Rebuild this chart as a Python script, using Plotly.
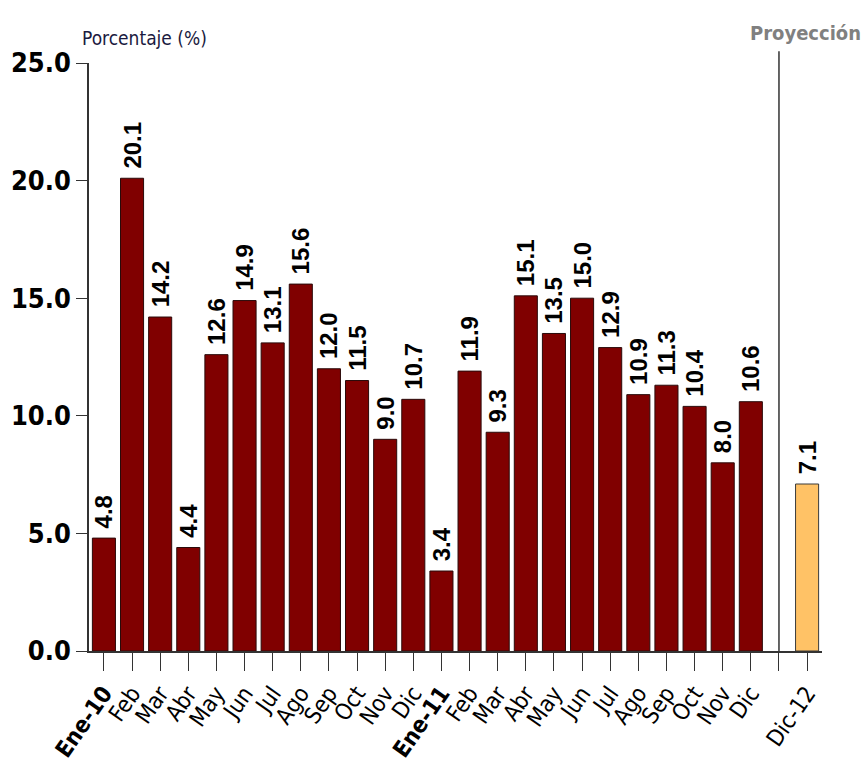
import plotly.graph_objects as go

# Monthly values (%), 2010-2011, plus the Dec-2012 projection
months = ["<b>Ene-10</b>", "Feb", "Mar", "Abr", "May", "Jun", "Jul", "Ago", "Sep", "Oct", "Nov", "Dic",
          "<b>Ene-11</b>", "Feb", "Mar", "Abr", "May", "Jun", "Jul", "Ago", "Sep", "Oct", "Nov", "Dic"]
values = [4.8, 20.1, 14.2, 4.4, 12.6, 14.9, 13.1, 15.6, 12.0, 11.5, 9.0, 10.7,
          3.4, 11.9, 9.3, 15.1, 13.5, 15.0, 12.9, 10.9, 11.3, 10.4, 8.0, 10.6]
proj_label = "Dic-12"
proj_value = 7.1
y_ticks = [0, 5, 10, 15, 20, 25]

narrow = "Liberation Sans Narrow, Arial Narrow, DejaVu Sans Condensed, Roboto Condensed, Liberation Sans, sans-serif"
wide = "Liberation Sans, Arial, sans-serif"

hist_x = list(range(len(values)))
gap_x = len(values)          # empty slot before the projection
proj_x = len(values) + 1

tick_vals = hist_x + [gap_x, proj_x]
tick_text = months + ["", proj_label]

label_font = dict(family=wide, size=24, color="black", weight="bold")
pad = "\u00a0"  # small lift between bar top and its value label


def fmt(v):
    return f"{pad}{v:.1f}"


fig = go.Figure()
fig.add_trace(go.Bar(
    x=hist_x, y=values,
    marker=dict(color="#800000", line=dict(color="#2a0a0a", width=1)),
    text=[fmt(v) for v in values],
    textposition="outside", textangle=-90, constraintext="none",
    textfont=label_font, cliponaxis=False, width=0.82,
))
fig.add_trace(go.Bar(
    x=[proj_x], y=[proj_value],
    marker=dict(color="#FFC266", line=dict(color="#3a3a3a", width=1)),
    text=[fmt(proj_value)],
    textposition="outside", textangle=-90, constraintext="none",
    textfont=label_font, cliponaxis=False, width=0.82,
))

# separator between history and projection
fig.add_shape(type="line", xref="x", yref="paper", x0=gap_x, x1=gap_x, y0=0, y1=1.02,
              line=dict(color="#333333", width=1.5))

fig.add_annotation(text="Porcentaje (%)", xref="paper", yref="paper", x=-0.012, y=1.02,
                   xanchor="left", yanchor="bottom", showarrow=False,
                   font=dict(family=narrow, size=19, color="#1a1a40"))
fig.add_annotation(text="<b>Proyección</b>", xref="paper", yref="paper", x=1.056, y=1.028,
                   xanchor="right", yanchor="bottom", showarrow=False,
                   font=dict(family=narrow, size=20, color="#808080"))

fig.update_layout(
    width=867, height=769,
    margin=dict(l=89, r=45, t=63, b=118),
    plot_bgcolor="white", paper_bgcolor="white",
    showlegend=False, bargap=0.18, barmode="overlay",
)

fig.update_xaxes(
    range=[-0.53, proj_x + 0.53], automargin=False,
    tickmode="array", tickvals=tick_vals, ticktext=tick_text,
    tickangle=-55, ticks="outside", ticklen=18, tickcolor="#333333",
    tickfont=dict(family=narrow, size=23, color="black"),
    showline=True, linecolor="#333333", linewidth=1.5,
    showgrid=False, zeroline=False,
)
fig.update_yaxes(
    range=[0, 25], automargin=False,
    tickmode="array", tickvals=y_ticks, ticktext=[f"{t:.1f}" for t in y_ticks],
    ticks="outside", ticklen=11, tickcolor="#333333",
    tickfont=dict(family=narrow, size=27, color="black", weight="bold"),
    showline=True, linecolor="#333333", linewidth=1.5,
    showgrid=False, zeroline=False,
)

fig.write_html("out.html")
